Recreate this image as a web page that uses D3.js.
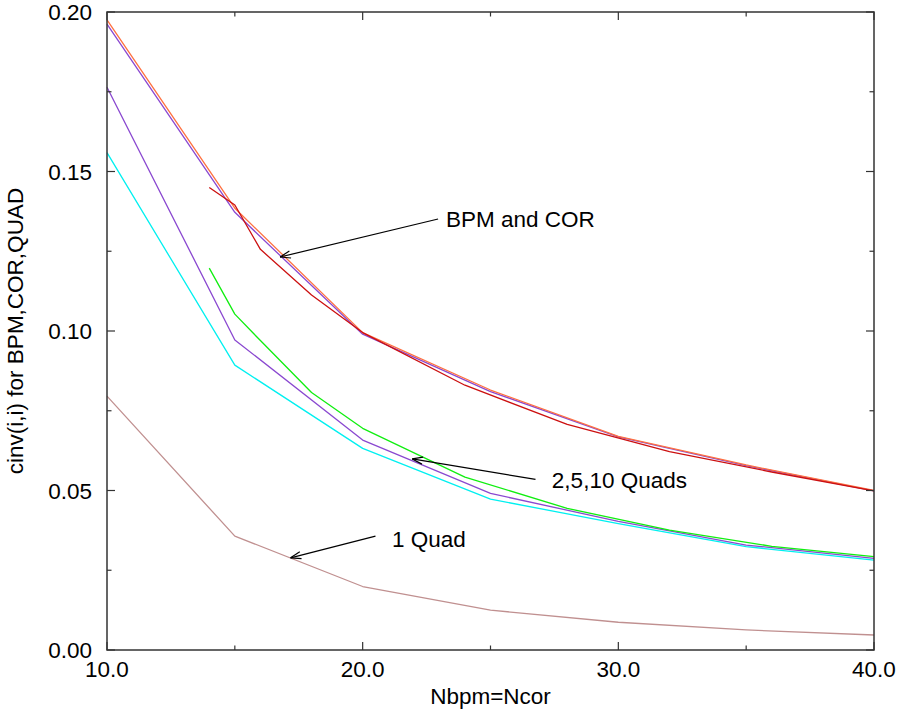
<!DOCTYPE html>
<html>
<head>
<meta charset="utf-8">
<script src="https://cdn.jsdelivr.net/npm/d3@7"></script>
<style>
  html, body { margin: 0; padding: 0; background: #fff; }
  svg { display: block; }
  text { font-family: "Liberation Sans", Arial, Helvetica, sans-serif; fill: #000; }
</style>
</head>
<body>
<svg id="chart" width="898" height="716"></svg>
<script>
// ---- data ----
const xEvery5 = [10, 15, 20, 25, 30, 35, 40];
const xEven = [14, 15, 16, 18, 20, 24, 28, 32, 36, 40];

const bpmOrange   = [0.1975, 0.1385, 0.0995, 0.0815, 0.0670, 0.0580, 0.0500];
const corPurple   = [0.1962, 0.1372, 0.0990, 0.0810, 0.0668, 0.0578, 0.0499];
const bothRed     = [0.1450, 0.1395, 0.1256, 0.1113, 0.0995, 0.0830, 0.0707, 0.0622, 0.0558, 0.0499];
const quadsPurple = [0.1764, 0.0972, 0.0658, 0.0491, 0.0403, 0.0329, 0.0287];
const quadsCyan   = [0.1559, 0.0893, 0.0632, 0.0473, 0.0396, 0.0324, 0.0282];
const quadsGreen  = [0.1197, 0.1053, 0.0970, 0.0807, 0.0695, 0.0542, 0.0444, 0.0376, 0.0325, 0.0293];
const oneQuad     = [0.0796, 0.0357, 0.0199, 0.0125, 0.0087, 0.0063, 0.0047];

const xMajorTicks = [10, 20, 30, 40];
const xMinorTicks = [15, 25, 35];
const yMajorTicks = [0, 0.05, 0.10, 0.15, 0.20];
const yMinorTicks = [0.025, 0.075, 0.125, 0.175];

const xTitle = "Nbpm=Ncor";
const yTitle = "cinv(i,i) for BPM,COR,QUAD";

// annotations (data units)
const labels = [
  { text: "BPM and COR",  tx: 23.26, ty: 0.1325, fx: 22.95, fy: 0.1351, ax: 16.77, ay: 0.1232 },
  { text: "2,5,10 Quads", tx: 27.40, ty: 0.0507, fx: 26.76, fy: 0.0535, ax: 21.94, ay: 0.0599 },
  { text: "1 Quad",       tx: 21.15, ty: 0.0324, fx: 20.50, fy: 0.0357, ax: 17.18, ay: 0.0289 }
];

// ---- layout ----
const svg = d3.select("#chart");
const L = 107, R = 874, T = 12, B = 650;
const x = d3.scaleLinear().domain([10, 40]).range([L, R]);
const y = d3.scaleLinear().domain([0, 0.2]).range([B, T]);
const FS = 22.5;

const series = [
  { xs: xEvery5, ys: corPurple,   color: "#8a48d0" },
  { xs: xEvery5, ys: bpmOrange,   color: "#ff7040" },
  { xs: xEven,   ys: bothRed,     color: "#cc1010" },
  { xs: xEvery5, ys: quadsCyan,   color: "#00f0f0" },
  { xs: xEvery5, ys: quadsPurple, color: "#8a48d0" },
  { xs: xEven,   ys: quadsGreen,  color: "#10ee10" },
  { xs: xEvery5, ys: oneQuad,     color: "#c09090" }
];

const line = d3.line().x(d => x(d[0])).y(d => y(d[1]));
series.forEach(s => {
  svg.append("path")
    .datum(s.xs.map((v, i) => [v, s.ys[i]]))
    .attr("d", line)
    .attr("fill", "none")
    .attr("stroke", s.color)
    .attr("stroke-width", 1.3)
    .attr("stroke-linejoin", "round");
});

// ---- axes (mirrored, inward ticks) ----
const axisColor = "#333";
const g = svg.append("g");
function tickLines(vals, len, isX) {
  vals.forEach(v => {
    if (isX) {
      const px = x(v);
      g.append("line").attr("x1", px).attr("x2", px).attr("y1", B).attr("y2", B - len);
      g.append("line").attr("x1", px).attr("x2", px).attr("y1", T).attr("y2", T + len);
    } else {
      const py = y(v);
      g.append("line").attr("y1", py).attr("y2", py).attr("x1", L).attr("x2", L + len);
      g.append("line").attr("y1", py).attr("y2", py).attr("x1", R).attr("x2", R - len);
    }
  });
}
tickLines(xMajorTicks, 8, true);
tickLines(xMinorTicks, 4.5, true);
tickLines(yMajorTicks, 8, false);
tickLines(yMinorTicks, 4.5, false);
g.append("rect").attr("x", L).attr("y", T).attr("width", R - L).attr("height", B - T)
  .attr("fill", "none");
g.selectAll("line").attr("stroke", axisColor).attr("stroke-width", 1.2);
g.select("rect").attr("stroke", axisColor).attr("stroke-width", 1.5);

// tick labels
svg.append("g").selectAll("text").data(xMajorTicks).join("text")
  .attr("x", d => x(d)).attr("y", B + 27)
  .attr("text-anchor", "middle").attr("font-size", FS)
  .text(d => d3.format(".1f")(d));
svg.append("g").selectAll("text").data(yMajorTicks).join("text")
  .attr("x", L - 15).attr("y", d => y(d)).attr("dy", "0.36em")
  .attr("text-anchor", "end").attr("font-size", FS)
  .text(d => d3.format(".2f")(d));

// titles
svg.append("text").attr("x", (L + R) / 2).attr("y", 704)
  .attr("text-anchor", "middle").attr("font-size", FS).text(xTitle);
svg.append("text").attr("transform", `translate(23,${(T + B) / 2}) rotate(-90)`)
  .attr("text-anchor", "middle").attr("font-size", FS).text(yTitle);

// annotations
labels.forEach(a => {
  const x1 = x(a.fx), y1 = y(a.fy), x2 = x(a.ax), y2 = y(a.ay);
  svg.append("line").attr("x1", x1).attr("y1", y1).attr("x2", x2).attr("y2", y2)
    .attr("stroke", "#000").attr("stroke-width", 1.2);
  const ang = Math.atan2(y1 - y2, x1 - x2);
  const hl = 11, spread = 0.33;
  [ang - spread, ang + spread].forEach(t => {
    svg.append("line").attr("x1", x2).attr("y1", y2)
      .attr("x2", x2 + hl * Math.cos(t)).attr("y2", y2 + hl * Math.sin(t))
      .attr("stroke", "#000").attr("stroke-width", 1.2);
  });
  svg.append("text").attr("x", x(a.tx)).attr("y", y(a.ty))
    .attr("font-size", FS).text(a.text);
});
</script>
</body>
</html>
